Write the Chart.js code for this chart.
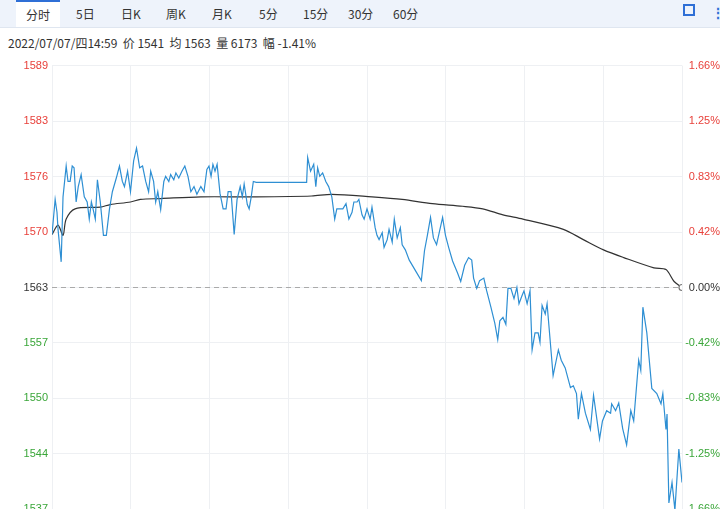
<!DOCTYPE html>
<html><head><meta charset="utf-8">
<script src="https://cdn.jsdelivr.net/npm/chart.js"></script>
<style>
body{margin:0;width:720px;height:509px;overflow:hidden;background:#fff;font-family:"Noto Sans CJK SC","Noto Sans",sans-serif;}
#tabs{position:absolute;left:0;top:0;width:720px;height:27px;background:#eef3fb;border-bottom:1px solid #dfe6f0;}
.tab{position:absolute;top:0;height:27px;line-height:27px;font-size:12px;color:#333;}
.tab.on{background:#fff;border-top:2px solid #2f6fd6;height:25px;line-height:25px;padding:0 10px;}
#info{position:absolute;left:8px;top:34px;font-size:12px;color:#333;}
#icon{position:absolute;left:683px;top:4px;width:12px;height:12px;}
#icon i{position:absolute;width:4px;height:4px;border-color:#2f6fd6;border-style:solid;border-width:0;}
#dots{position:absolute;left:711px;top:2px;font-size:14px;color:#2f6fd6;font-weight:bold;}
#wrap{position:absolute;left:0;top:55px;width:720px;height:465px;}
</style></head><body>
<div id="tabs">
<div class="tab on" style="left:16px">分时</div>
<div class="tab" style="left:76px">5日</div>
<div class="tab" style="left:121px">日K</div>
<div class="tab" style="left:166px">周K</div>
<div class="tab" style="left:212px">月K</div>
<div class="tab" style="left:259px">5分</div>
<div class="tab" style="left:303px">15分</div>
<div class="tab" style="left:348px">30分</div>
<div class="tab" style="left:393px">60分</div>
<div id="icon"><i style="left:0;top:0;border-left-width:2px;border-top-width:2px"></i><i style="right:0;top:0;border-right-width:2px;border-top-width:2px"></i><i style="left:0;bottom:0;border-left-width:2px;border-bottom-width:2px"></i><i style="right:0;bottom:0;border-right-width:2px;border-bottom-width:2px"></i></div>
<div id="dots">⋮</div>
</div>
<div id="info">2022/07/07/四14:59&nbsp; 价 1541&nbsp; 均 1563&nbsp; 量 6173&nbsp; 幅 -1.41%</div>
<div id="wrap"><canvas id="c"></canvas></div>
<script>
// 基准价 与 刻度
const basePrice = 1563;
const leftTicks = ['1589','1583','1576','1570','1563','1557','1550','1544','1537'];
const rightTicks = ['1.66%','1.25%','0.83%','0.42%','0.00%','-0.42%','-0.83%','-1.25%','-1.66%'];

// 分钟序号 与 价格
const priceTime = [0,1.2,1.9,2.3,3.5,4.2,5.4,6.1,6.9,7.7,8.4,9.2,10,11.1,12.3,13.4,14.2,15,15.7,16.5,17.3,18.4,19.6,20.7,21.9,23,24.5,25.7,26.8,27.6,28.8,29.9,31.1,32.2,33.4,34.5,35.7,36.8,37.6,38.7,39.5,40.3,41.4,42.6,43.3,44.5,45.2,46.4,47.2,48.3,49.5,50.6,51.8,52.9,54.1,55.2,56.7,57.9,59,59.8,60.6,61.3,62.1,62.9,64,65.2,66.3,67.1,68.2,69.4,70.5,71.7,72.5,73.2,74.4,75.1,75.9,76.7,77.8,97,97.4,98.5,99.7,100.5,101.2,102,103.1,104.3,105.4,106.6,107.7,108.5,110.8,112,113.1,114.3,115,116.2,116.9,118.1,118.9,120,121.2,121.9,123.1,123.8,124.6,125.8,126.5,127.7,128.4,129.6,130.4,131.5,132.7,133.4,134.6,136.1,140.7,141.9,143,144.2,145.3,146.5,148.8,149.9,151.1,152.6,154.5,155.7,157.2,158.7,159.9,160.6,161.8,162.9,164.5,165.6,167.2,168.7,169.8,170.6,171.8,172.9,173.7,174.8,176,177.1,177.9,179,179.8,181,182.1,182.9,184,185.2,185.9,186.7,187.9,188.6,190.9,192.9,194,195.5,197.5,198.6,199.8,200.5,201.7,203.2,205.1,206.3,208.6,209.7,211.3,212.8,213.2,214.7,215.9,217.4,218.9,220.5,221.6,223.5,224.3,225.1,226.6,228.5,230.4,232,232.7,233.9,234.3,235,236.2,237.3,238.8,240];
const priceValues = [1569.2,1573.3,1571.8,1569.8,1566,1573.6,1577.2,1575.4,1575.4,1577.2,1577,1573,1574.8,1576.2,1573.6,1573,1571,1573,1572.1,1571,1575.6,1573,1569.1,1569.1,1572.2,1574.2,1575.8,1577.2,1575.4,1574.8,1576.6,1574.2,1577.8,1579.3,1577,1577.2,1575.4,1574.2,1576.6,1575.4,1573,1574.2,1572.1,1575.4,1576,1575.4,1576.2,1575.6,1576.4,1575.8,1576.6,1577.2,1576,1574.2,1574.8,1573.9,1574.8,1574.2,1576.8,1577.2,1576,1577.4,1576.6,1577.4,1574,1572.2,1572.2,1574.2,1574.2,1569.2,1573.3,1574.8,1573.6,1575.1,1572.7,1572.2,1573.6,1575.4,1575.3,1575.3,1578.2,1576.6,1577.4,1574.8,1577,1576,1576.4,1575.4,1574.8,1573.6,1571,1572.2,1572.2,1572.8,1571,1571.8,1573,1573,1573.3,1571.5,1571,1572.2,1571,1572.4,1570,1569.1,1568.6,1569.4,1567.7,1568.6,1569.8,1568.3,1571,1568.8,1570,1568,1567.4,1566.2,1563.8,1567.3,1569.1,1571.2,1568.8,1568,1571.2,1569.1,1567.7,1566.1,1564.7,1563.7,1565.6,1566.5,1566.2,1564.1,1562.9,1563.8,1564.1,1562.6,1560.7,1558.8,1556.9,1559.1,1559.5,1558.7,1562.9,1562.9,1561.7,1563,1561.1,1562,1562.6,1561.1,1562.6,1555.7,1557.7,1557.7,1556.6,1560.9,1559.9,1561.1,1552.7,1555.7,1554.5,1553.6,1551.3,1551.5,1550.6,1547.6,1550.6,1548.3,1546.4,1550.4,1545.3,1547.4,1548.6,1548.3,1549.4,1548.6,1549.5,1546.5,1544.6,1548.6,1547.4,1554.5,1553.3,1560.7,1557.7,1551.2,1550.6,1549.4,1550.6,1546.4,1548.2,1537.8,1540.2,1537,1544.1,1540.2];

// 均价线
const avgTime = [0,2.3,4.2,5.4,8.8,18.4,22.2,29.9,33.7,41.4,56.7,75.9,98.9,106.6,121.9,133.4,144.9,156.4,164.1,171.8,179.4,194.8,202.4,210.1,217.8,229.3,233.9,237,240];
const avgValues = [1569.2,1570.3,1569.1,1571,1572.2,1572.4,1572.7,1573,1573.3,1573.4,1573.6,1573.6,1573.7,1573.9,1573.6,1573.3,1572.8,1572.5,1572.2,1571.5,1571,1569.8,1568.6,1567.4,1566.5,1565.3,1565.1,1563.7,1563];

const yMin = basePrice * (1 - 0.0166), yMax = basePrice * (1 + 0.0166);
const colorFor = i => i < 4 ? '#e8413b' : (i === 4 ? '#333' : '#3aa639');

function setTicks(scale) {
  scale.ticks = leftTicks.map((_, i) => ({ value: yMax - (yMax - yMin) * i / (leftTicks.length - 1) }));
}

// 顶部和底部的刻度文字向内收
const labelOffset = ctx => ctx.index === 0 ? 6 : (ctx.index === leftTicks.length - 1 ? -6 : 0);

new Chart(document.getElementById('c'), {
  type: 'line',
  data: {
    datasets: [
      { data: priceTime.map((t, i) => ({ x: t, y: priceValues[i] })), borderColor: '#2e8fd3', borderWidth: 1.2, pointRadius: 0, tension: 0 },
      { data: avgTime.map((t, i) => ({ x: t, y: avgValues[i] })), borderColor: '#333', borderWidth: 1.2, tension: 0.3,
        pointRadius: avgTime.map((_, i) => i === avgTime.length - 1 ? 3 : 0), pointBackgroundColor: '#fff', pointBorderColor: '#777' },
      { data: [{ x: 0, y: basePrice }, { x: 240, y: basePrice }], borderColor: '#aaa', borderWidth: 1, borderDash: [5, 4], pointRadius: 0 }
    ]
  },
  options: {
    responsive: true, maintainAspectRatio: false, animation: false,
    layout: { padding: { top: 10, bottom: 7 } },
    plugins: { legend: { display: false }, tooltip: { enabled: false } },
    scales: {
      x: { type: 'linear', min: 0, max: 240, ticks: { display: false, stepSize: 30 },
           grid: { color: '#eef0f3', drawTicks: false }, border: { display: false } },
      y: { position: 'left', min: yMin, max: yMax, afterBuildTicks: setTicks,
           afterFit: s => { s.width = 52; },
           ticks: { callback: (v, i) => leftTicks[i], color: ctx => colorFor(ctx.index), font: { size: 11 }, padding: 4 },
           grid: { color: '#eef0f3', drawTicks: false }, border: { display: false } },
      y2: { position: 'right', min: yMin, max: yMax, afterBuildTicks: setTicks,
           afterFit: s => { s.width = 38; },
           ticks: { callback: (v, i) => rightTicks[i], color: ctx => colorFor(ctx.index), font: { size: 11 }, crossAlign: 'far', padding: 0 },
           grid: { display: false }, border: { display: false } }
    }
  }
});
</script>
</body></html>
